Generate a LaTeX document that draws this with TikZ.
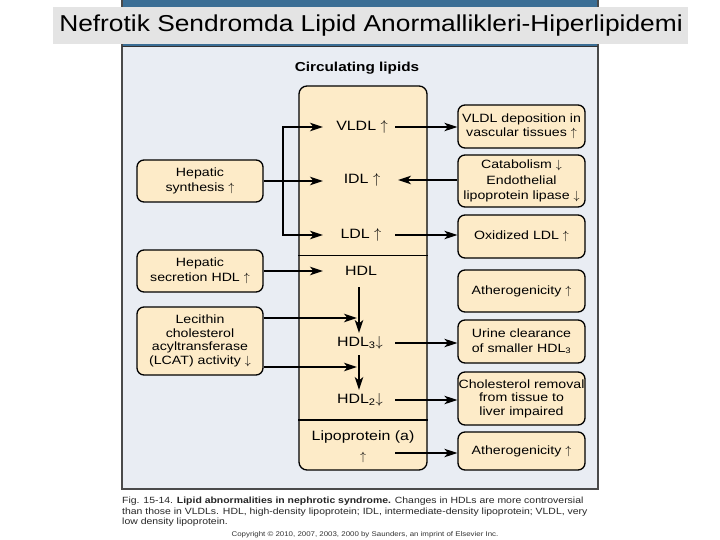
\documentclass[tikz,border=0pt]{standalone}
\usepackage{fontspec}
\setmainfont{Liberation Sans}
\newfontfamily\boxfont{Liberation Sans}[FakeStretch=1.18]
\newfontfamily\titlefont{Liberation Sans}[FakeStretch=1.145]
\newfontfamily\capfont{Liberation Sans}[FakeStretch=1.16]
\usetikzlibrary{arrows.meta}
\newcommand{\myup}{\ensuremath{\uparrow}}
\newcommand{\mydown}{\ensuremath{\downarrow}}
\definecolor{panelbg}{HTML}{E9EDF3}
\definecolor{peach}{HTML}{FDEBC8}
\definecolor{hdrblue}{HTML}{3B6E95}
\definecolor{titlegray}{HTML}{E4E4E4}
\definecolor{framegray}{HTML}{4A4A4A}
\tikzset{
  lbox/.style={draw, line width=1.3pt, rounded corners=7pt, fill=peach, align=center,
    inner sep=0pt, font=\boxfont\fontsize{12}{14.5}\selectfont},
  ctext/.style={inner sep=0pt, align=center, font=\boxfont\fontsize{13.5}{14}\selectfont},
  arr/.style={line width=1.4pt, -{Stealth[length=13pt,width=8.5pt,inset=3.5pt]}},
  arrboth/.style={line width=1.4pt, {Stealth[length=13pt,width=8.5pt,inset=3.5pt]}-{Stealth[length=13pt,width=8.5pt,inset=3.5pt]}},
}
\begin{document}
\begin{tikzpicture}[x=1pt,y=-1pt]
\useasboundingbox (0,0) rectangle (720,540);
\fill[white] (0,0) rectangle (720,540);
% header and panel
\fill[hdrblue] (122,0) rectangle (598,47);
\fill[panelbg] (122,47) rectangle (598,489);
\draw[framegray, line width=1.5pt] (122,0) -- (122,489) -- (598,489) -- (598,0);
\draw[black!80, line width=1pt] (122,47) -- (598,47);
\fill[titlegray] (53,7) rectangle (688,44);
\node[font=\titlefont\fontsize{23}{26}\selectfont] (title) at (371,26) {Nefrotik Sendromda Lipid Anormallikleri-Hiperlipidemi};

% heading
\node[font=\boxfont\bfseries\fontsize{13}{15}\selectfont] (heading) at (357,68) {Circulating lipids};

% central box
\node[draw, line width=1.3pt, rounded corners=8pt, fill=peach, minimum width=128pt,
      minimum height=384pt, inner sep=0pt] (central) at (363,278) {};
\coordinate (sepA) at (0,255);
\coordinate (sepB) at (0,420);
\draw[line width=0.9pt] (central.west |- sepA) -- (central.east |- sepA);
\draw[line width=1.6pt] (central.west |- sepB) -- (central.east |- sepB);

\node[ctext] (vldl) at (362,127) {VLDL \myup};
\node[ctext] (idl)  at (362,180) {IDL \myup};
\node[ctext] (ldl)  at (361,235) {LDL \myup};
\node[ctext] (hdl)  at (361,271) {HDL};
\node[ctext] (hdl3) at (360,343) {HDL\textsubscript{3}\mydown};
\node[ctext] (hdl2) at (360,400) {HDL\textsubscript{2}\mydown};
\node[ctext] (lpa) at (363,437.5) {Lipoprotein (a)};
\node[ctext, font=\fontsize{12.5}{13}\selectfont] (lpaarrow) at (363,457) {\myup};

% left boxes
\node[lbox, minimum width=126pt, minimum height=42pt] (hs)   at (200,181) {Hepatic\\synthesis \myup};
\node[lbox, minimum width=126pt, minimum height=42pt] (hsec) at (200,271) {Hepatic\\secretion HDL \myup};
\node[lbox, minimum width=126pt, minimum height=68pt, font=\boxfont\fontsize{12}{13.5}\selectfont] (lcat) at (200,341) {Lecithin\\cholesterol\\acyltransferase\\(LCAT) activity \mydown};

% right boxes
\node[lbox, minimum width=127pt, minimum height=43pt] (vd)    at (521.5,126.5) {VLDL deposition in\\vascular tissues \myup};
\node[lbox, minimum width=127pt, minimum height=52pt, font=\boxfont\fontsize{12}{15.5}\selectfont] (cat)   at (521.5,181) {Catabolism \mydown\\Endothelial\\lipoprotein lipase \mydown};
\node[lbox, minimum width=127pt, minimum height=43pt] (ox)    at (521.5,236.5) {Oxidized LDL \myup};
\node[lbox, minimum width=127pt, minimum height=42pt] (ath1)  at (521.5,291) {Atherogenicity \myup};
\node[lbox, minimum width=127pt, minimum height=43pt] (urine) at (521.5,341.5) {Urine clearance\\of smaller HDL\textsubscript{3}};
\node[lbox, minimum width=127pt, minimum height=53pt, font=\boxfont\fontsize{12}{13.5}\selectfont] (chol)  at (521.5,398.5) {Cholesterol removal\\from tissue to\\liver impaired};
\node[lbox, minimum width=127pt, minimum height=38pt] (ath2)  at (521.5,451) {Atherogenicity \myup};

% connector columns
\coordinate (bus) at (283,0);
\coordinate (inL) at (323,0);
\coordinate (outR) at (395,0);
\coordinate (inR) at (398,0);
\coordinate (lcA) at (357,318);
\coordinate (lcB) at (357,367);
\coordinate (lpaout) at (395,453);

% left side arrows
\draw[arrboth] (inL |- vldl) -- (bus |- vldl) -- (bus |- ldl) -- (inL |- ldl);
\draw[arr] (hs.east) -- (inL |- hs.east);
\draw[arr] (hsec.east) -- (inL |- hsec.east);
\draw[arr] (lcat.east |- lcA) -- (lcA);
\draw[arr] (lcat.east |- lcB) -- (lcB);

% HDL cascade
\draw[arr] ([xshift=-2pt,yshift=-16pt]hdl.center) -- ([xshift=-1pt,yshift=10pt]hdl3.center);
\draw[arr] ([xshift=-1pt,yshift=-12pt]hdl3.center) -- ([xshift=-1pt,yshift=10pt]hdl2.center);

% right side arrows
\draw[arr] (outR |- vldl) -- (vd.west |- vldl);
\draw[arr] (cat.west |- idl) -- (inR |- idl);
\draw[arr] (outR |- ldl) -- (ox.west |- ldl);
\draw[arr] (outR |- hdl3) -- (urine.west |- hdl3);
\draw[arr] (outR |- hdl2) -- (chol.west |- hdl2);
\draw[arr] (lpaout) -- (ath2.west |- lpaout);

% caption
\node[anchor=north west, inner sep=0pt, align=left, text=black!85,
      font=\capfont\fontsize{9}{10.6}\selectfont] (caption) at (122,497)
 {Fig. 15-14. \textbf{Lipid abnormalities in nephrotic syndrome.} Changes in HDLs are more controversial\\
  than those in VLDLs. HDL, high-density lipoprotein; IDL, intermediate-density lipoprotein; VLDL, very\\
  low density lipoprotein.};
\node[inner sep=0pt, text=black!80, font=\capfont\fontsize{6.8}{7}\selectfont] (copyright) at (365,535)
 {Copyright © 2010, 2007, 2003, 2000 by Saunders, an imprint of Elsevier Inc.};
\end{tikzpicture}
\end{document}
